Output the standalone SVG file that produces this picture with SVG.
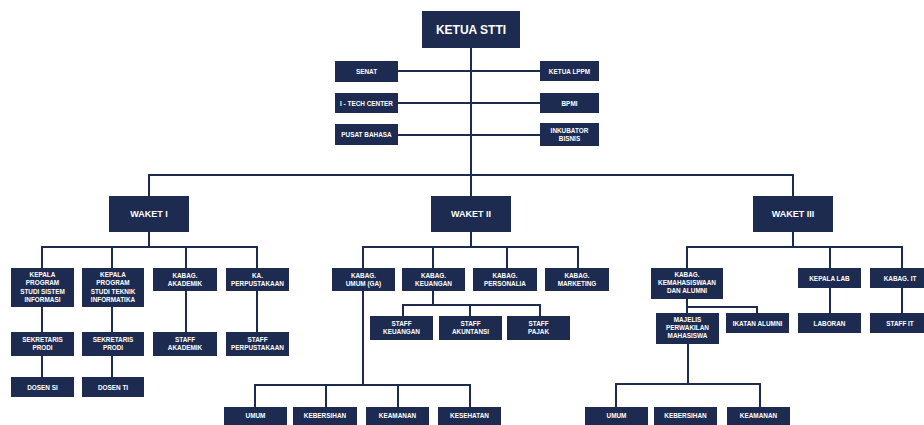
<svg xmlns="http://www.w3.org/2000/svg" width="924" height="425" viewBox="0 0 924 425">
<style>
.b{fill:#1d2b50}
.t{fill:#ffffff;font-family:"Liberation Sans","DejaVu Sans",sans-serif;font-weight:bold;font-size:6.4px;text-anchor:middle}
.tb{font-size:12px}
.tm{font-size:9px}
.c{fill:none;stroke:#1d2b50;stroke-width:2}
</style>
<rect width="924" height="425" fill="#ffffff"/>
<g id="connectors" class="c">
<path d="M471 48V196"/>
<path d="M398 71H540M398 103H540M398 135H540"/>
<path d="M149 196V175H793V196"/>
<path d="M149 232V247M42 268V247H257V268M112 247V268M186 247V268"/>
<path d="M42 307V332M42 356V377M112 307V332M112 356V377M186 291V332M257 291V332"/>
<path d="M471 232V247M363 268V247H578V268M433 247V268M507 247V268"/>
<path d="M433 291V305M403 316V305H540V316M470 305V316"/>
<path d="M363 291V385M255 407V385H470V407M326 385V407M398 385V407"/>
<path d="M793 232V247M687 268V247H902V268M830 247V268"/>
<path d="M687 299V313M687 307H757V313"/>
<path d="M830 288V313M902 288V313"/>
<path d="M688 344V384M616 407V384H760V407"/>
</g>
<g id="ketua"><rect class="b" x="422" y="11" width="98" height="37"/><text class="t tb" x="471" y="34">KETUA STTI</text></g>
<g id="senat"><rect class="b" x="335" y="61" width="63" height="21"/><text class="t" x="366.5" y="74">SENAT</text></g>
<g id="itech"><rect class="b" x="335" y="93" width="63" height="20"/><text class="t" x="366.5" y="105.5">I - TECH CENTER</text></g>
<g id="pusat"><rect class="b" x="335" y="124" width="63" height="21"/><text class="t" x="366.5" y="137">PUSAT BAHASA</text></g>
<g id="lppm"><rect class="b" x="540" y="61" width="59" height="20"/><text class="t" x="569.5" y="73.5">KETUA LPPM</text></g>
<g id="bpmi"><rect class="b" x="540" y="93" width="59" height="20"/><text class="t" x="569.5" y="105.5">BPMI</text></g>
<g id="inkubator"><rect class="b" x="540" y="123" width="59" height="23"/><text class="t" x="569.5" y="132.5">INKUBATOR</text><text class="t" x="569.5" y="140.5">BISNIS</text></g>
<g id="waket1"><rect class="b" x="109" y="196" width="80" height="36"/><text class="t tm" x="149" y="217">WAKET I</text></g>
<g id="waket2"><rect class="b" x="431" y="196" width="80" height="36"/><text class="t tm" x="471" y="217">WAKET II</text></g>
<g id="waket3"><rect class="b" x="753" y="196" width="80" height="36"/><text class="t tm" x="793" y="217">WAKET III</text></g>
<g id="kpssi"><rect class="b" x="11" y="268" width="63" height="39"/><text class="t" x="42.5" y="276.5">KEPALA</text><text class="t" x="42.5" y="285">PROGRAM</text><text class="t" x="42.5" y="293.5">STUDI SISTEM</text><text class="t" x="42.5" y="302">INFORMASI</text></g>
<g id="kpsti"><rect class="b" x="82" y="268" width="62" height="39"/><text class="t" x="113" y="276.5">KEPALA</text><text class="t" x="113" y="285">PROGRAM</text><text class="t" x="113" y="293.5">STUDI TEKNIK</text><text class="t" x="113" y="302">INFORMATIKA</text></g>
<g id="kabagakademik"><rect class="b" x="153" y="268" width="64" height="23"/><text class="t" x="185" y="277.5">KABAG.</text><text class="t" x="185" y="285.5">AKADEMIK</text></g>
<g id="kaperpus"><rect class="b" x="226" y="268" width="63" height="23"/><text class="t" x="257.5" y="277.5">KA.</text><text class="t" x="257.5" y="285.5">PERPUSTAKAAN</text></g>
<g id="sekssi"><rect class="b" x="11" y="332" width="63" height="24"/><text class="t" x="42.5" y="341.5">SEKRETARIS</text><text class="t" x="42.5" y="349.5">PRODI</text></g>
<g id="seksti"><rect class="b" x="82" y="332" width="62" height="24"/><text class="t" x="113" y="341.5">SEKRETARIS</text><text class="t" x="113" y="349.5">PRODI</text></g>
<g id="staffakademik"><rect class="b" x="153" y="332" width="64" height="24"/><text class="t" x="185" y="341.5">STAFF</text><text class="t" x="185" y="349.5">AKADEMIK</text></g>
<g id="staffperpus"><rect class="b" x="226" y="332" width="63" height="24"/><text class="t" x="257.5" y="341.5">STAFF</text><text class="t" x="257.5" y="349.5">PERPUSTAKAAN</text></g>
<g id="dosensi"><rect class="b" x="11" y="377" width="63" height="20"/><text class="t" x="42.5" y="389.5">DOSEN SI</text></g>
<g id="dosenti"><rect class="b" x="82" y="377" width="62" height="20"/><text class="t" x="113" y="389.5">DOSEN TI</text></g>
<g id="kabagumum"><rect class="b" x="332" y="268" width="63" height="23"/><text class="t" x="363.5" y="277.5">KABAG.</text><text class="t" x="363.5" y="285.5">UMUM (GA)</text></g>
<g id="kabagkeuangan"><rect class="b" x="402" y="268" width="63" height="23"/><text class="t" x="433.5" y="277.5">KABAG.</text><text class="t" x="433.5" y="285.5">KEUANGAN</text></g>
<g id="kabagpersonalia"><rect class="b" x="473" y="268" width="64" height="23"/><text class="t" x="505" y="277.5">KABAG.</text><text class="t" x="505" y="285.5">PERSONALIA</text></g>
<g id="kabagmarketing"><rect class="b" x="545" y="268" width="64" height="23"/><text class="t" x="577" y="277.5">KABAG.</text><text class="t" x="577" y="285.5">MARKETING</text></g>
<g id="staffkeuangan"><rect class="b" x="370" y="316" width="63" height="24"/><text class="t" x="401.5" y="325.5">STAFF</text><text class="t" x="401.5" y="333.5">KEUANGAN</text></g>
<g id="staffakuntansi"><rect class="b" x="439" y="316" width="63" height="24"/><text class="t" x="470.5" y="325.5">STAFF</text><text class="t" x="470.5" y="333.5">AKUNTANSI</text></g>
<g id="staffpajak"><rect class="b" x="507" y="316" width="63" height="24"/><text class="t" x="538.5" y="325.5">STAFF</text><text class="t" x="538.5" y="333.5">PAJAK</text></g>
<g id="umum1"><rect class="b" x="224" y="407" width="63" height="22"/><text class="t" x="255.5" y="418">UMUM</text></g>
<g id="kebersihan1"><rect class="b" x="293" y="407" width="64" height="22"/><text class="t" x="325" y="418">KEBERSIHAN</text></g>
<g id="keamanan1"><rect class="b" x="366" y="407" width="63" height="22"/><text class="t" x="397.5" y="418">KEAMANAN</text></g>
<g id="kesehatan1"><rect class="b" x="438" y="407" width="63" height="22"/><text class="t" x="469.5" y="418">KESEHATAN</text></g>
<g id="kemahasiswaan"><rect class="b" x="651" y="268" width="72" height="31"/><text class="t" x="687" y="276.5">KABAG.</text><text class="t" x="687" y="284.5">KEMAHASISWAAN</text><text class="t" x="687" y="292.5">DAN ALUMNI</text></g>
<g id="kepalalab"><rect class="b" x="798" y="268" width="63" height="20"/><text class="t" x="829.5" y="280.5">KEPALA LAB</text></g>
<g id="kabagit"><rect class="b" x="870" y="268" width="60" height="20"/><text class="t" x="900" y="280.5">KABAG. IT</text></g>
<g id="majelis"><rect class="b" x="656" y="313" width="63" height="31"/><text class="t" x="687.5" y="321.5">MAJELIS</text><text class="t" x="687.5" y="329.5">PERWAKILAN</text><text class="t" x="687.5" y="337.5">MAHASISWA</text></g>
<g id="ikatanalumni"><rect class="b" x="726" y="313" width="63" height="20"/><text class="t" x="757.5" y="325.5">IKATAN ALUMNI</text></g>
<g id="laboran"><rect class="b" x="798" y="313" width="63" height="20"/><text class="t" x="829.5" y="325.5">LABORAN</text></g>
<g id="staffit"><rect class="b" x="870" y="313" width="60" height="20"/><text class="t" x="900" y="325.5">STAFF IT</text></g>
<g id="umum2"><rect class="b" x="585" y="407" width="63" height="22"/><text class="t" x="616.5" y="418">UMUM</text></g>
<g id="kebersihan2"><rect class="b" x="654" y="407" width="63" height="22"/><text class="t" x="685.5" y="418">KEBERSIHAN</text></g>
<g id="keamanan2"><rect class="b" x="727" y="407" width="63" height="22"/><text class="t" x="758.5" y="418">KEAMANAN</text></g>
</svg>
